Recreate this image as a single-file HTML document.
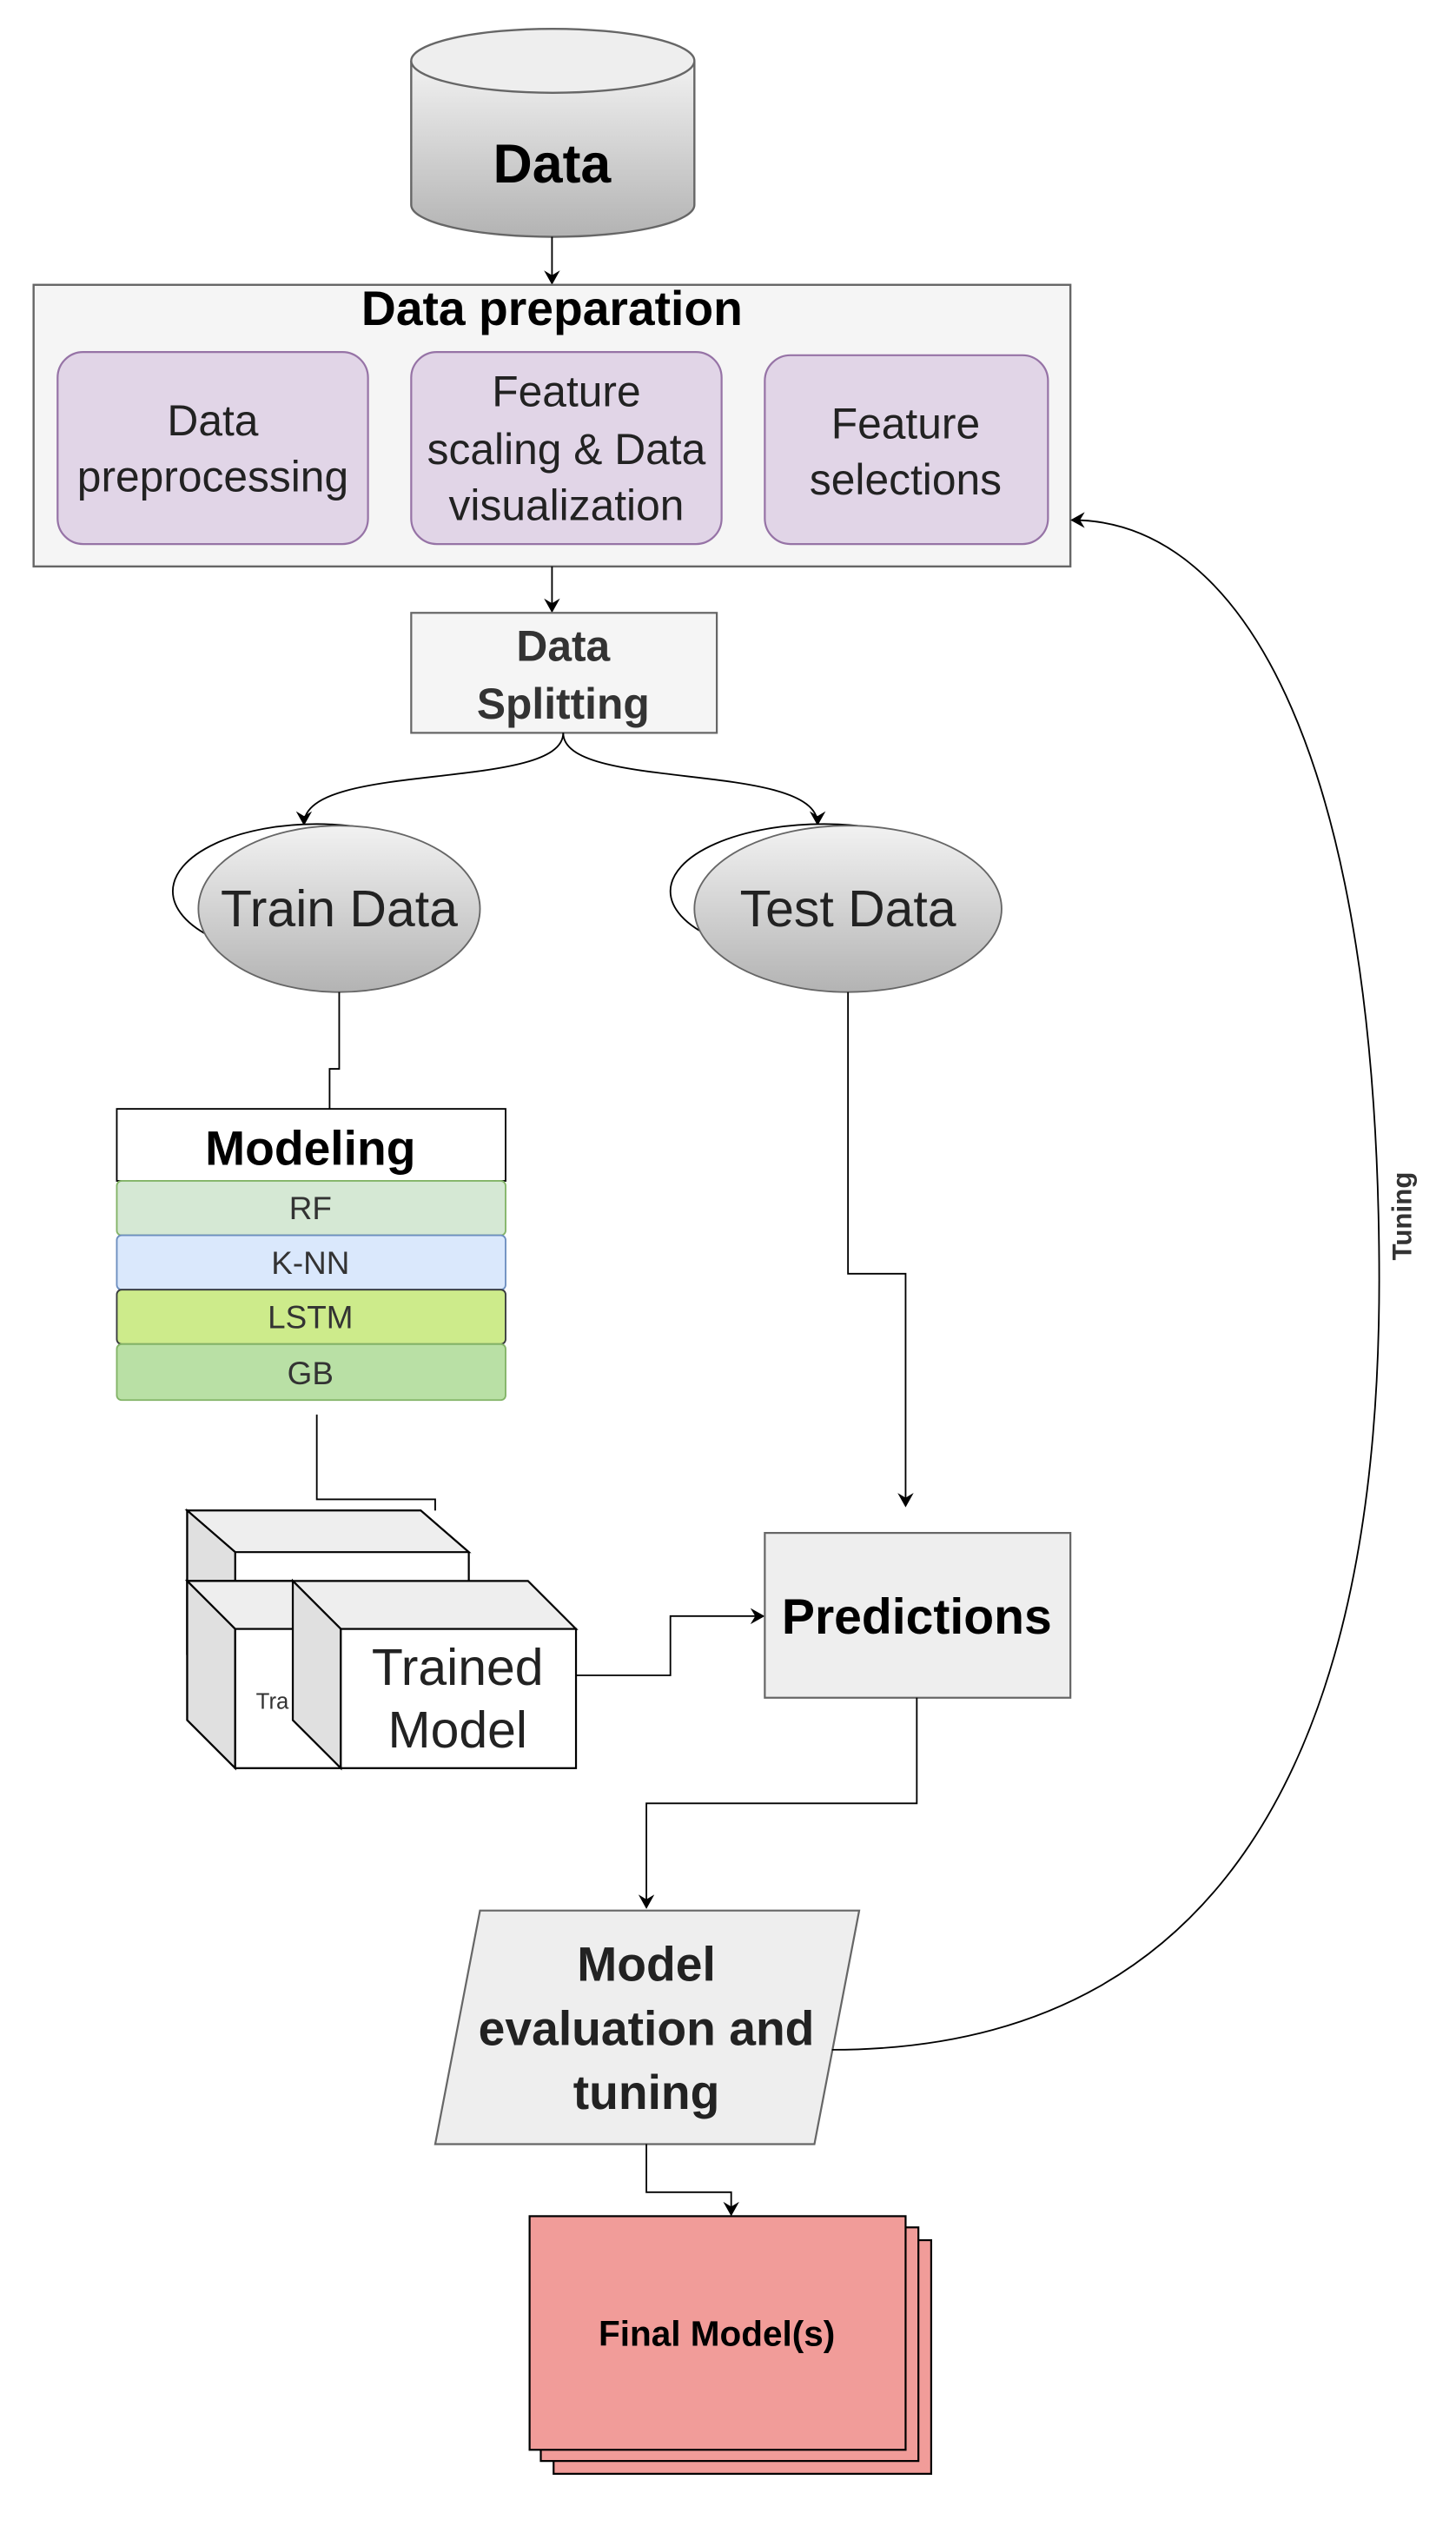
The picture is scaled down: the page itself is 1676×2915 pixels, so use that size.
<!DOCTYPE html>
<html><head><meta charset="utf-8"><style>html,body{margin:0;padding:0;background:#fff}svg{display:block}</style></head>
<body>
<svg width="1676" height="2915" viewBox="0 0 910 1583" preserveAspectRatio="none" xmlns="http://www.w3.org/2000/svg" font-family="Liberation Sans, Arial, sans-serif">
<defs>
<linearGradient id="g" x1="0" y1="0" x2="0" y2="1"><stop offset="0" stop-color="#f2f2f2"/><stop offset="1" stop-color="#b3b3b3"/></linearGradient>
<marker id="a" markerWidth="10" markerHeight="10" refX="8" refY="5" orient="auto" markerUnits="userSpaceOnUse"><path d="M0,0 L9,5 L0,10 L3,5 Z" fill="#000"/></marker>
</defs>
<!-- cylinder -->
<path d="M257,38 L257,128 A88.5,20 0 0 0 434,128 L434,38" fill="url(#g)" stroke="#666" stroke-width="1.3"/>
<ellipse cx="345.5" cy="38" rx="88.5" ry="20" fill="#eee" stroke="#666" stroke-width="1.3"/>
<text x="345" y="114" font-size="34" font-weight="bold" text-anchor="middle">Data</text>
<line x1="345" y1="148" x2="345" y2="177" stroke="#000" marker-end="url(#a)"/>
<!-- data prep -->
<rect x="21" y="178" width="648" height="176" fill="#f5f5f5" stroke="#666" stroke-width="1.3"/>
<text x="345" y="203" font-size="30" font-weight="bold" text-anchor="middle">Data preparation</text>
<g fill="#e1d5e7" stroke="#9673a6" stroke-width="1.2">
<rect x="36" y="220" width="194" height="120" rx="16"/>
<rect x="257" y="220" width="194" height="120" rx="16"/>
<rect x="478" y="222" width="177" height="118" rx="16"/>
</g>
<g font-size="27" text-anchor="middle" fill="#222">
<text x="133" y="272">Data</text><text x="133" y="307">preprocessing</text>
<text x="354" y="254">Feature</text><text x="354" y="290">scaling &amp; Data</text><text x="354" y="325">visualization</text>
<text x="566" y="274">Feature</text><text x="566" y="309">selections</text>
</g>
<line x1="345" y1="354" x2="345" y2="382" stroke="#000" marker-end="url(#a)"/>
<rect x="257" y="383" width="191" height="75" fill="#f5f5f5" stroke="#666" stroke-width="1.2"/>
<g font-size="27" font-weight="bold" text-anchor="middle" fill="#333"><text x="352" y="413">Data</text><text x="352" y="449">Splitting</text></g>
<path d="M352,458 C352,495 190,475 190,515" fill="none" stroke="#000" marker-end="url(#a)"/>
<path d="M352,458 C352,495 511,475 511,515" fill="none" stroke="#000" marker-end="url(#a)"/>
<!-- ellipses -->
<ellipse cx="198" cy="557" rx="90" ry="42" fill="#fff" stroke="#000"/>
<ellipse cx="212" cy="568" rx="88" ry="52" fill="url(#g)" stroke="#666"/>
<text x="212" y="579" font-size="32" text-anchor="middle" fill="#222">Train Data</text>
<ellipse cx="515" cy="557" rx="96" ry="42" fill="#fff" stroke="#000"/>
<ellipse cx="530" cy="568" rx="96" ry="52" fill="url(#g)" stroke="#666"/>
<text x="530" y="579" font-size="32" text-anchor="middle" fill="#222">Test Data</text>
<polyline points="212,620 212,668 206,668 206,693" fill="none" stroke="#000"/>
<!-- modeling -->
<rect x="73" y="693" width="243" height="45" fill="#fff" stroke="#000"/>
<text x="194" y="728" font-size="30" font-weight="bold" text-anchor="middle">Modeling</text>
<rect x="73" y="738" width="243" height="34" rx="3" fill="#d5e8d4" stroke="#82b366"/>
<rect x="73" y="772" width="243" height="34" rx="3" fill="#dae8fc" stroke="#6c8ebf"/>
<rect x="73" y="806" width="243" height="34" rx="3" fill="#cdeb8b" stroke="#36393d"/>
<rect x="73" y="840" width="243" height="35" rx="3" fill="#b9e0a5" stroke="#82b366"/>
<g font-size="20" text-anchor="middle" fill="#333"><text x="194" y="762">RF</text><text x="194" y="796">K-NN</text><text x="194" y="830">LSTM</text><text x="194" y="865">GB</text></g>
<polyline points="198,884 198,937 272,937 272,944" fill="none" stroke="#000"/>
<!-- cubes -->
<g stroke="#000" stroke-width="1.2">
<path d="M117,944 L263,944 L293,970 L293,1060 L147,1060 L117,1034 Z" fill="#fff"/>
<path d="M117,944 L263,944 L293,970 L147,970 Z" fill="#eee"/>
<path d="M117,944 L147,970 L147,1060 L117,1034 Z" fill="#e0e0e0"/>
<path d="M117,988 L183,988 L213,1018 L213,1105 L147,1105 L117,1075 Z" fill="#fff"/>
<path d="M117,988 L147,1018 L147,1105 L117,1075 Z" fill="#e0e0e0"/>
<path d="M117,988 L183,988 L213,1018 L147,1018 Z" fill="#eee"/>
<rect x="147" y="1018" width="66" height="87" fill="#fff"/>
<path d="M183,988 L330,988 L360,1018 L213,1018 Z" fill="#eee"/>
<path d="M183,988 L213,1018 L213,1105 L183,1075 Z" fill="#e0e0e0"/>
<rect x="213" y="1018" width="147" height="87" fill="#fff"/>
</g>
<text x="160" y="1068" font-size="14" fill="#333">Tra</text>
<g font-size="32" text-anchor="middle" fill="#222"><text x="286" y="1053">Trained</text><text x="286" y="1092">Model</text></g>
<polyline points="360,1047 419,1047 419,1010 477,1010" fill="none" stroke="#000" marker-end="url(#a)"/>
<polyline points="530,620 530,796 566,796 566,941" fill="none" stroke="#000" marker-end="url(#a)"/>
<rect x="478" y="958" width="191" height="103" fill="#eee" stroke="#666" stroke-width="1.2"/>
<text x="573" y="1021" font-size="31" font-weight="bold" text-anchor="middle">Predictions</text>
<polyline points="573,1061 573,1127 404,1127 404,1192" fill="none" stroke="#000" marker-end="url(#a)"/>
<polygon points="300,1194 537,1194 509,1340 272,1340" fill="#eee" stroke="#666" stroke-width="1.2"/>
<g font-size="30" font-weight="bold" text-anchor="middle" fill="#222"><text x="404" y="1238">Model</text><text x="404" y="1278">evaluation and</text><text x="404" y="1318">tuning</text></g>
<path d="M520,1281 C760,1281 862,1100 862,800 C862,480 780,325 670,325" fill="none" stroke="#000" marker-end="url(#a)"/>
<text x="0" y="0" font-size="17" font-weight="bold" fill="#333" text-anchor="middle" transform="translate(882,760) rotate(-90)">Tuning</text>
<polyline points="404,1340 404,1370 457,1370 457,1384" fill="none" stroke="#000" marker-end="url(#a)"/>
<g fill="#f19c99" stroke="#000" stroke-width="1.2">
<rect x="346" y="1400" width="236" height="146"/>
<rect x="338" y="1392" width="236" height="146"/>
<rect x="331" y="1385" width="235" height="146"/>
</g>
<text x="448" y="1466" font-size="22" font-weight="bold" text-anchor="middle">Final Model(s)</text>
</svg>
</body></html>
